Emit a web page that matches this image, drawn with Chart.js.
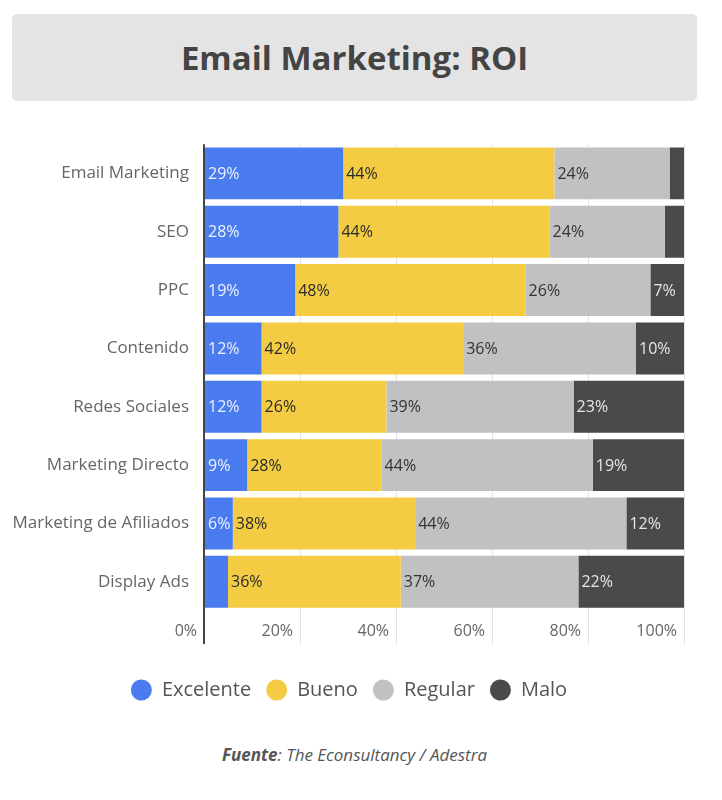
<!DOCTYPE html>
<html>
<head>
<meta charset="utf-8">
<script src="https://cdn.jsdelivr.net/npm/chart.js@4/dist/chart.umd.min.js"></script>
<style>
  body { margin: 0; background: #fff; font-family: "Open Sans", sans-serif; }
  #page { position: relative; width: 722px; height: 800px; }
  #title {
    position: absolute; left: 12px; top: 14px; width: 685px; height: 87px;
    background: #e4e4e4; border-radius: 5px;
    display: flex; align-items: center; justify-content: center;
    font-weight: bold; font-size: 33px; color: #444;
  }
  #chartBox { position: absolute; left: 0; top: 119px; width: 722px; height: 601px; }
  #source {
    position: absolute; left: 0; top: 743px; width: 709px; text-align: center;
    font-style: italic; font-size: 17px; color: #555;
  }
</style>
</head>
<body>
<div id="page">
  <div id="title">Email Marketing: ROI</div>
  <div id="chartBox"><canvas id="roiChart"></canvas></div>
  <div id="source"><b>Fuente</b>: The Econsultancy / Adestra</div>
</div>
<script>
// Data
const channels = ['Email Marketing', 'SEO', 'PPC', 'Contenido', 'Redes Sociales',
                  'Marketing Directo', 'Marketing de Afiliados', 'Display Ads'];
const seriesNames = ['Excelente', 'Bueno', 'Regular', 'Malo'];
const excelente = [29, 28, 19, 12, 12, 9, 6, 5];
const bueno     = [44, 44, 48, 42, 26, 28, 38, 36];
const regular   = [24, 24, 26, 36, 39, 44, 44, 37];
const malo      = [3, 4, 7, 10, 23, 19, 12, 22];
const xTicks    = [0, 20, 40, 60, 80, 100];

const barColors   = ['#4a7cef', '#f4cc43', '#c1c1c3', '#4a4a4c'];
const labelColors = ['#eef2ff', '#2a2a2a', '#333333', '#e6e6e6'];

// Draws the value at the start of each segment (small ones are skipped)
const segmentLabels = {
    id: 'segmentLabels',
    afterDatasetsDraw(chart) {
        const ctx = chart.ctx;
        ctx.save();
        ctx.font = '16px "Open Sans"';
        ctx.textAlign = 'left';
        ctx.textBaseline = 'middle';
        chart.data.datasets.forEach((ds, i) => {
            const meta = chart.getDatasetMeta(i);
            meta.data.forEach((bar, j) => {
                const v = ds.data[j];
                if (v < 6) return;
                ctx.fillStyle = labelColors[i];
                ctx.fillText(v + '%', Math.min(bar.base, bar.x) + 3, bar.y + 1);
            });
        });
        ctx.restore();
    }
};

const datasets = [excelente, bueno, regular, malo].map((vals, i) => ({
    label: seriesNames[i],
    data: vals,
    backgroundColor: barColors[i],
    borderWidth: 0,
    barPercentage: 0.89,
    categoryPercentage: 1
}));

new Chart(document.getElementById('roiChart'), {
    type: 'bar',
    data: { labels: channels, datasets: datasets },
    plugins: [segmentLabels],
    options: {
        indexAxis: 'y',
        responsive: true,
        maintainAspectRatio: false,
        animation: false,
        layout: { padding: { left: 14, right: 38, top: 2, bottom: 10 } },
        scales: {
            x: {
                stacked: true,
                min: 0,
                max: 100,
                afterBuildTicks(scale) {
                    scale.ticks = xTicks.map(v => ({ value: v }));
                },
                afterFit(scale) { scale.height = 54; },
                border: { display: false },
                grid: {
                    color: ctx => ctx.index === 0 ? '#444' : '#e4e4e4',
                    lineWidth: ctx => ctx.index === 0 ? 2 : 1,
                    tickLength: 33
                },
                ticks: {
                    callback: v => v + '%',
                    align: 'end',
                    labelOffset: -7,
                    padding: -22,
                    color: '#666',
                    font: { family: 'Open Sans', size: 16 }
                }
            },
            y: {
                stacked: true,
                afterFit(scale) { scale.width = 190; },
                border: { display: false },
                grid: { display: false, drawTicks: false },
                ticks: {
                    padding: 15,
                    color: '#666',
                    font: { family: 'Open Sans', size: 17 }
                }
            }
        },
        plugins: {
            legend: {
                position: 'bottom',
                labels: {
                    usePointStyle: true,
                    pointStyle: 'circle',
                    pointStyleWidth: 21,
                    boxHeight: 15,
                    padding: 15,
                    color: '#555',
                    font: { family: 'Open Sans', size: 20 }
                }
            },
            tooltip: { enabled: false }
        }
    }
});
</script>
</body>
</html>
